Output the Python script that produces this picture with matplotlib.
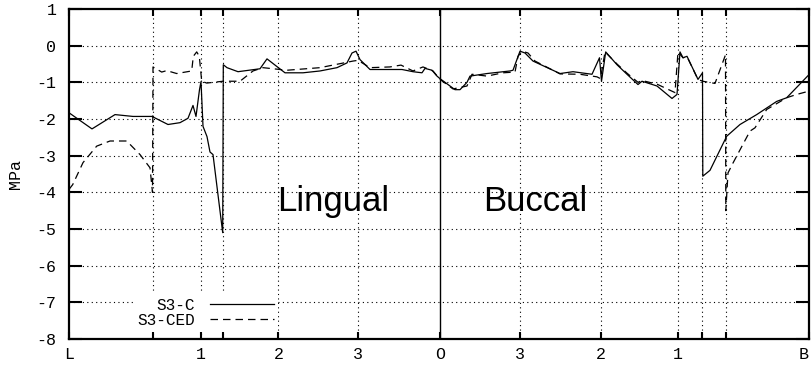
import matplotlib.pyplot as plt

# -----------------------
# DATA (distance along the section, stress in MPa)
# -----------------------
tick_pos = [0, 84, 131.7, 154, 209.5, 289.3, 371, 451, 531.7, 608.7, 633.3, 656.7, 740]
tick_labels = ["L", "", "1", "", "2", "3", "O", "3", "2", "1", "", "", "B"]
y_ticks = [-8, -7, -6, -5, -4, -3, -2, -1, 0, 1]
y_tick_labels = ["-8", "-7", "-6", "-5", "-4", "-3", "-2", "-1", "0", "1"]

# S3-C
c_x = [0, 23, 46, 64, 83, 99, 111, 119, 124, 127, 130.5, 132, 134, 138, 141, 144,
       153.7, 154.3, 158, 169, 191, 198, 216, 234, 251, 268, 278, 283, 287, 291, 301,
       333, 344, 353, 356, 363, 368, 371, 386, 391, 398, 401, 418, 441, 444, 451, 456,
       464, 491, 504, 523, 530.5, 532.5, 536.7, 548, 558, 569, 573, 588, 603, 608, 611,
       614, 618, 629, 633.5, 633.8, 641, 657.7, 671, 687.7, 707.7, 717.7, 740]
c_y = [-1.83, -2.27, -1.88, -1.93, -1.93, -2.15, -2.10, -1.98, -1.63, -1.93, -1.20, -0.98,
       -2.20, -2.48, -2.90, -2.97, -5.10, -0.52, -0.60, -0.71, -0.63, -0.36, -0.74, -0.74,
       -0.69, -0.60, -0.47, -0.20, -0.15, -0.38, -0.65, -0.65, -0.71, -0.74, -0.62, -0.67,
       -0.83, -0.90, -1.20, -1.20, -1.00, -0.83, -0.76, -0.69, -0.67, -0.15, -0.20, -0.42,
       -0.76, -0.71, -0.78, -0.33, -0.97, -0.17, -0.52, -0.78, -1.06, -0.97, -1.10, -1.44,
       -1.33, -0.17, -0.33, -0.29, -0.92, -0.74, -3.56, -3.40, -2.47, -2.15, -1.88, -1.52,
       -1.42, -0.79]

# S3-CED
ced_x = [0, 3.7, 14, 27.7, 41, 57.7, 71, 81, 83.5, 84, 92.7, 97.7, 107.7, 122.7, 124.3,
         127.7, 130.3, 132.7, 137.7, 154, 171, 184, 194, 218, 251, 284, 289, 301, 321,
         332, 344, 354, 364, 371, 384, 398, 403, 418, 434, 446, 449, 453, 459, 466, 491,
         511, 528, 531.5, 536, 548, 558, 569, 573, 588, 606, 609, 614, 618, 629, 633.7,
         646, 656.5, 656.8, 659, 664, 681, 686, 697.7, 717.7, 727.7, 740]
ced_y = [-3.92, -3.79, -3.19, -2.74, -2.60, -2.60, -2.97, -3.33, -4.00, -0.58, -0.72,
         -0.68, -0.76, -0.69, -0.29, -0.17, -0.29, -0.97, -1.02, -0.97, -0.97, -0.69,
         -0.60, -0.67, -0.60, -0.42, -0.40, -0.60, -0.58, -0.53, -0.69, -0.58, -0.69,
         -0.92, -1.18, -1.10, -0.78, -0.83, -0.74, -0.72, -0.29, -0.15, -0.20, -0.42,
         -0.77, -0.78, -0.85, -0.90, -0.17, -0.50, -0.75, -1.00, -0.95, -1.05, -1.28,
         -0.17, -0.33, -0.30, -0.92, -0.97, -1.03, -0.25, -4.50, -3.47, -3.20, -2.33,
         -2.24, -1.74, -1.42, -1.33, -1.24]

MONO = "Liberation Mono"

# -----------------------
# PLOT
# -----------------------
fig = plt.figure(figsize=(8.12, 3.67), dpi=100)
ax = fig.add_axes([69 / 812, 28 / 367, 740 / 812, 330 / 367])

# dotted grid, solid divider at the occlusal point
for yv in y_ticks[1:-1]:
    ax.axhline(yv, color="black", lw=0.8, ls=(0, (1, 3)), zorder=1)
for xv in tick_pos[1:-1]:
    if xv == 371:
        ax.axvline(xv, color="black", lw=1.0, zorder=1)
    else:
        ax.axvline(xv, color="black", lw=0.8, ls=(0, (1, 3)), zorder=1)

ax.plot(c_x, c_y, color="black", lw=0.9, label="S3-C", zorder=3)
ax.plot(ced_x, ced_y, color="black", lw=0.9, dashes=(6, 4), label="S3-CED", zorder=3)

ax.text(264, -4.52, "Lingual", fontsize=25, family="Liberation Sans",
        ha="center", va="baseline", zorder=4)
ax.text(466, -4.52, "Buccal", fontsize=25, family="Liberation Sans",
        ha="center", va="baseline", zorder=4)

ax.set_xlim(0, 740)
ax.set_ylim(-8, 1)
ax.set_xticks(tick_pos)
ax.set_xticklabels(tick_labels, family=MONO, fontsize=12)
ax.get_xticklabels()[-1].set_horizontalalignment("right")
ax.set_yticks(y_ticks)
ax.set_yticklabels(y_tick_labels, family=MONO, fontsize=12)
ax.tick_params(axis="y", direction="in", length=9.5, width=1.5, right=True, pad=9)
ax.tick_params(axis="x", direction="in", length=5, width=1.5, top=True, pad=6)
for sp in ax.spines.values():
    sp.set_linewidth(1.6)
ax.set_ylabel("MPa", family=MONO, fontsize=12, labelpad=10)

leg = ax.legend(loc="lower right", bbox_to_anchor=(0.283, 0.02), markerfirst=False,
                prop={"family": MONO, "size": 11.5}, handlelength=4.0,
                handletextpad=0.9, labelspacing=0.0, borderpad=0.3,
                frameon=True, fancybox=False, borderaxespad=0)
leg.get_frame().set_edgecolor("none")
leg.get_frame().set_facecolor("white")
leg.get_frame().set_alpha(1)
leg.set_zorder(5)

plt.savefig("out.png", dpi=100)
